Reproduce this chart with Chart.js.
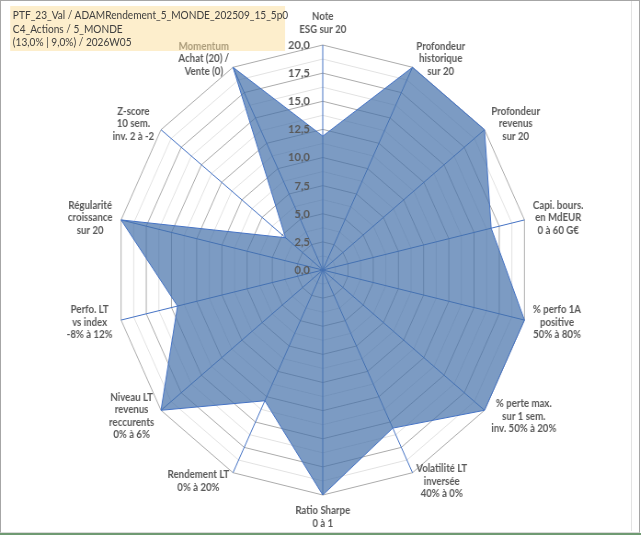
<!DOCTYPE html>
<html>
<head>
<meta charset="utf-8">
<script src="https://cdn.jsdelivr.net/npm/chart.js@4.4.1/dist/chart.umd.min.js"></script>
<style>
  html, body { margin: 0; padding: 0; background: #ffffff; }
  body { width: 641px; height: 536px; position: relative; overflow: hidden; }
  #frame { position: absolute; left: 0; top: 0; width: 638px; height: 531px; border: 1px solid #A6A6A6; border-bottom: 1px solid #D9D9D9; }
  #innerEdge { position: absolute; left: 631px; top: 1px; width: 1px; height: 530px; background: #E3E3E3; }
  #greenLine { position: absolute; left: 0; top: 533px; width: 641px; height: 2px; background: #6F9A72; }
  #wrap { position: absolute; left: 0; top: 0; width: 697px; height: 536px; transform: scaleX(0.9195); transform-origin: 0 0; }
  #box { position: absolute; left: 0; top: 0; width: 697px; height: 536px; }
  #title { position: absolute; left: 11px; top: 6px; width: 299px; height: 45px; padding: 2px 0 0 3px; box-sizing: border-box;
           background: rgba(251, 221, 153, 0.5); font-family: Lato, "Liberation Sans", sans-serif; font-size: 11px; line-height: 13.5px; color: #404040; white-space: nowrap; }
</style>
</head>
<body>
<div id="frame"></div>
<div id="innerEdge"></div>
<div id="greenLine"></div>
<div id="wrap">
  <div id="box"><canvas id="c"></canvas></div>
  <div id="title"></div>
</div>
<script>
// ---- data ----
const titleLines = [
  "PTF_23_Val / ADAMRendement_5_MONDE_202509_15_5p0",
  "C4_Actions / 5_MONDE",
  "(13,0% | 9,0%) / 2026W05"
];
const categories = [
  ["Note", "ESG sur 20"],
  ["Profondeur", "historique", "sur 20"],
  ["Profondeur", "revenus", "sur 20"],
  ["Capi. bours.", "en MdEUR", "0 à 60 G€"],
  ["% perfo 1A", "positive", "50% à 80%"],
  ["% perte max.", "sur 1 sem.", "inv. 50% à 20%"],
  ["Volatilité LT", "inversée", "40% à 0%"],
  ["Ratio Sharpe", "0 à 1"],
  ["Rendement LT", "0% à 20%"],
  ["Niveau LT", "revenus", "reccurents", "0% à 6%"],
  ["Perfo. LT", "vs index", "-8% à 12%"],
  ["Régularité", "croissance", "sur 20"],
  ["Z-score", "10 sem.", "inv. 2 à -2"],
  ["Momentum", "Achat (20) /", "Vente (0)"]
];
const scores = [11.9, 20, 20, 16.7, 20, 20, 15.6, 20, 12.9, 20, 14.4, 20, 4.6, 20];
const tickLabels = ["0,0", "2,5", "5,0", "7,5", "10,0", "12,5", "15,0", "17,5", "20,0"];

document.getElementById('title').innerHTML = titleLines.map(t => '<div>' + t + '</div>').join('');

const FONT = 'Lato, "Liberation Sans", sans-serif';

const textPlugin = {
  id: 'axisText',
  afterDatasetsDraw(chart) {
    const s = chart.scales.r;
    const ctx = chart.ctx;
    ctx.save();
    ctx.fillStyle = '#595959';
    // radial tick labels
    ctx.font = 'bold 12px ' + FONT;
    ctx.textAlign = 'right';
    ctx.textBaseline = 'middle';
    tickLabels.forEach(t => {
      const v = parseFloat(t.replace(',', '.'));
      const d = s.getDistanceFromCenterForValue(v);
      ctx.fillText(t, s.xCenter - 14, s.yCenter - d);
    });
    // axis (point) labels
    ctx.font = 'bold 10.5px ' + FONT;
    ctx.textAlign = 'center';
    const lh = 12.5;
    const gap = 9.5;
    categories.forEach((lines, i) => {
      const w = Math.max(...lines.map(l => ctx.measureText(l).width));
      const h = lines.length * lh;
      const ang = s.getIndexAngle(i);
      const sn = Math.sin(ang), cs = Math.cos(ang);
      const p = s.getPointPosition(i, s.drawingArea + gap);
      let cx, cy;
      if (Math.abs(sn) < 0.05) {
        cx = p.x;
        cy = p.y - Math.sign(cs) * h / 2;
      } else {
        cx = p.x + Math.sign(sn) * w / 2;
        cy = p.y;
      }
      lines.forEach((l, j) => ctx.fillText(l, cx, cy - h / 2 + lh * (j + 0.5)));
    });
    ctx.restore();
  }
};

new Chart(document.getElementById('c'), {
  type: 'radar',
  data: {
    labels: categories,
    datasets: [{
      data: scores,
      backgroundColor: 'rgba(68, 112, 170, 0.7)',
      borderColor: '#4472C4',
      borderWidth: 1,
      pointRadius: 0,
      fill: true
    }]
  },
  options: {
    responsive: true,
    maintainAspectRatio: false,
    animation: false,
    layout: { padding: { left: 126, right: 120, top: 45, bottom: 40 } },
    plugins: { legend: { display: false }, tooltip: { enabled: false } },
    elements: { line: { tension: 0 } },
    scales: {
      r: {
        min: 0,
        max: 20,
        startAngle: 0,
        ticks: { display: false, stepSize: 1.25 },
        pointLabels: { display: false },
        grid: {
          circular: false,
          lineWidth: 1,
          color: (c) => (c.tick && Math.abs(c.tick.value % 2.5) < 1e-6) ? '#ABABAB' : '#E2E2E2'
        },
        angleLines: { display: true, color: '#4472C4', lineWidth: 1 }
      }
    }
  },
  plugins: [textPlugin]
});
</script>
</body>
</html>
